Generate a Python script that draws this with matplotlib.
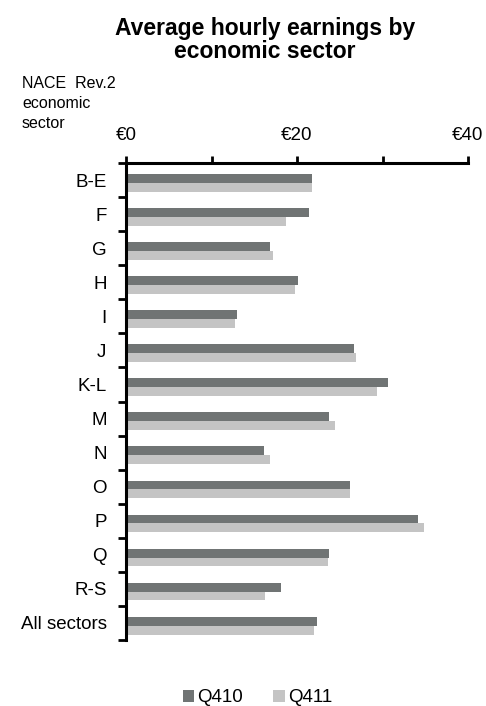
import numpy as np
import matplotlib.pyplot as plt
from matplotlib.ticker import FixedLocator, FuncFormatter

plt.rcParams['font.family'] = ['Liberation Sans', 'DejaVu Sans']

# hourly earnings (EUR) per NACE Rev.2 sector
sectors = ['B-E', 'F', 'G', 'H', 'I', 'J', 'K-L', 'M', 'N', 'O', 'P', 'Q', 'R-S', 'All sectors']
q410 = [21.8, 21.4, 16.9, 20.1, 13.0, 26.7, 30.7, 23.8, 16.1, 26.2, 34.2, 23.8, 18.1, 22.3]
q411 = [21.8, 18.7, 17.2, 19.8, 12.8, 26.9, 29.4, 24.5, 16.9, 26.2, 34.9, 23.6, 16.3, 22.0]
x_ticks = [0, 10, 20, 30, 40]
x_labels = {0: '€0', 20: '€20', 40: '€40'}

dark = '#707474'
light = '#c4c4c4'

fig = plt.figure(figsize=(4.86, 7.06), dpi=100)
ax = fig.add_axes([126 / 486, 1 - 640 / 706, (468 - 126) / 486, (640 - 163) / 706])

y = np.arange(len(sectors))
h = 0.26
ax.barh(y - h / 2 + 0.08, q410, height=h, color=dark, label='Q410')
ax.barh(y + h / 2 + 0.08, q411, height=h, color=light, label='Q411')

ax.set_xlim(0, 40)
ax.set_ylim(len(sectors) - 0.5, -0.5)

# x axis on top
ax.xaxis.set_ticks_position('top')
ax.xaxis.set_major_locator(FixedLocator(x_ticks))
ax.xaxis.set_major_formatter(FuncFormatter(lambda v, p: x_labels.get(int(round(v)), '')))
ax.tick_params(axis='x', direction='out', length=5, width=2, pad=9, labelsize=13.5)

# category labels centred, tick marks on the boundaries
ax.set_yticks(y)
ax.set_yticklabels(sectors)
ax.set_yticks(np.arange(len(sectors) + 1) - 0.5, minor=True)
ax.tick_params(axis='y', which='major', length=0, pad=14, labelsize=13.5)
ax.tick_params(axis='y', which='minor', direction='out', length=6, width=2)

for side in ['right', 'bottom']:
    ax.spines[side].set_visible(False)
for side in ['left', 'top']:
    ax.spines[side].set_linewidth(2.2)

fig.text(0.545, 1 - 40 / 706, 'Average hourly earnings by\neconomic sector',
         ha='center', va='center', fontsize=16.5, fontweight='bold', linespacing=1.0)
fig.text(22 / 486, 1 - 76 / 706, 'NACE  Rev.2\neconomic\nsector',
         ha='left', va='top', fontsize=11.5, linespacing=1.4)

fig.legend(loc='center', bbox_to_anchor=(0.53, 1 - 698 / 706), ncol=2, frameon=False,
           fontsize=13.5, handlelength=0.6, handleheight=0.6, handletextpad=0.2,
           columnspacing=1.6)

fig.savefig('out.png', dpi=100)
